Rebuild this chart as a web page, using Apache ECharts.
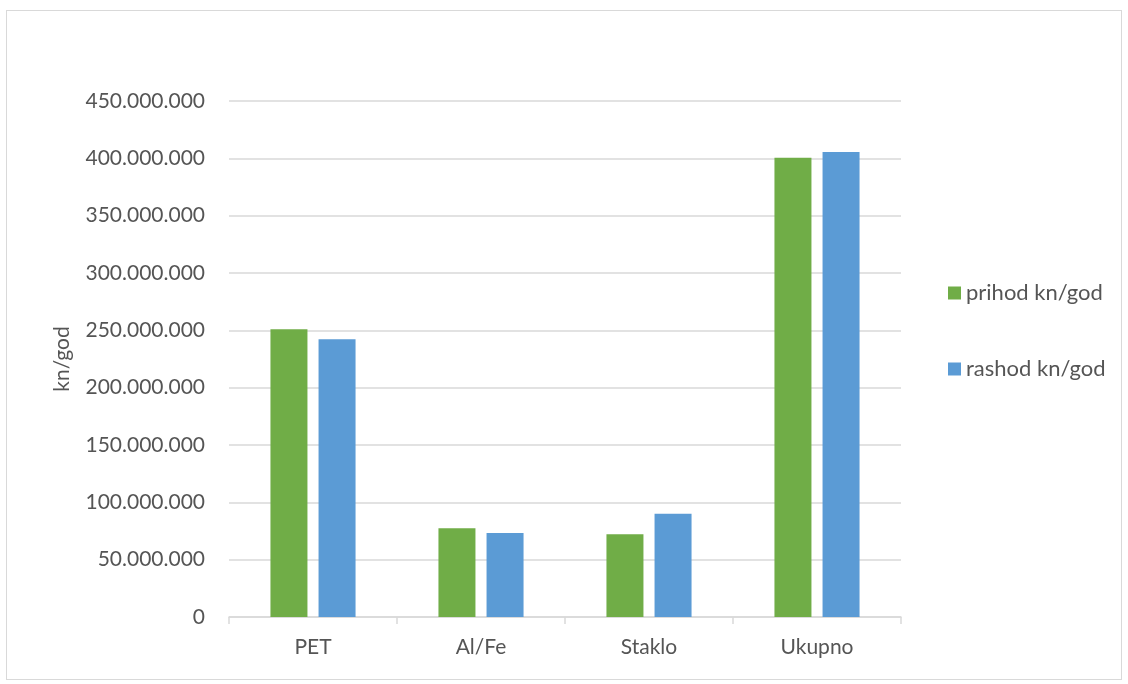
<!DOCTYPE html>
<html><head><meta charset="utf-8">
<script src="https://cdn.jsdelivr.net/npm/echarts@6/dist/echarts.min.js"></script>
<style>
html,body{margin:0;padding:0;background:#fff;}
#frame{position:absolute;left:6px;top:10px;width:1116px;height:670px;border:1px solid #d9d9d9;box-sizing:border-box;}
#c{position:absolute;left:0;top:0;width:1128px;height:684px;}
</style></head>
<body><div id="frame"></div><div id="c"></div>
<script>
const categories = ['PET', 'Al/Fe', 'Staklo', 'Ukupno'];
const prihod = [251000000, 77300000, 72100000, 400400000];
const rashod = [242200000, 73300000, 90100000, 405600000];
const seriesNames = ['prihod kn/god', 'rashod kn/god'];
const yAxisName = 'kn/god';

const FONT = 'Lato';
const TXT = '#555555';
const fmt = v => String(Math.round(v)).replace(/\B(?=(\d{3})+(?!\d))/g, '.');
const chart = echarts.init(document.getElementById('c'));
chart.setOption({
  animation: false,
  textStyle: { fontFamily: FONT },
  grid: { left: 229, right: 227, top: 101, bottom: 67 },
  legend: {
    orient: 'vertical', left: 943, top: 277, itemGap: 54,
    itemWidth: 13, itemHeight: 13, icon: 'rect',
    textStyle: { fontFamily: FONT, fontSize: 22, color: TXT },
    data: seriesNames
  },
  xAxis: {
    type: 'category', data: categories,
    axisLine: { lineStyle: { color: '#d9d9d9', width: 1.5 } },
    axisTick: { show: true, length: 7, lineStyle: { color: '#d9d9d9', width: 1.5 } },
    axisLabel: { fontFamily: FONT, fontSize: 21, color: TXT, margin: 20 }
  },
  yAxis: {
    type: 'value', min: 0, max: 450000000, interval: 50000000,
    name: yAxisName, nameLocation: 'middle', nameGap: 156,
    nameTextStyle: { fontFamily: FONT, fontSize: 21, color: TXT },
    axisLine: { show: false }, axisTick: { show: false },
    splitLine: { lineStyle: { color: '#d9d9d9', width: 1.5 } },
    axisLabel: { fontFamily: FONT, fontSize: 21, color: TXT, margin: 24, formatter: fmt }
  },
  series: [
    { name: seriesNames[0], type: 'bar', data: prihod, barWidth: 37, barGap: '30%',
      itemStyle: { color: '#70ad47' } },
    { name: seriesNames[1], type: 'bar', data: rashod, barWidth: 37,
      itemStyle: { color: '#5b9bd5' } }
  ]
});
</script></body></html>
